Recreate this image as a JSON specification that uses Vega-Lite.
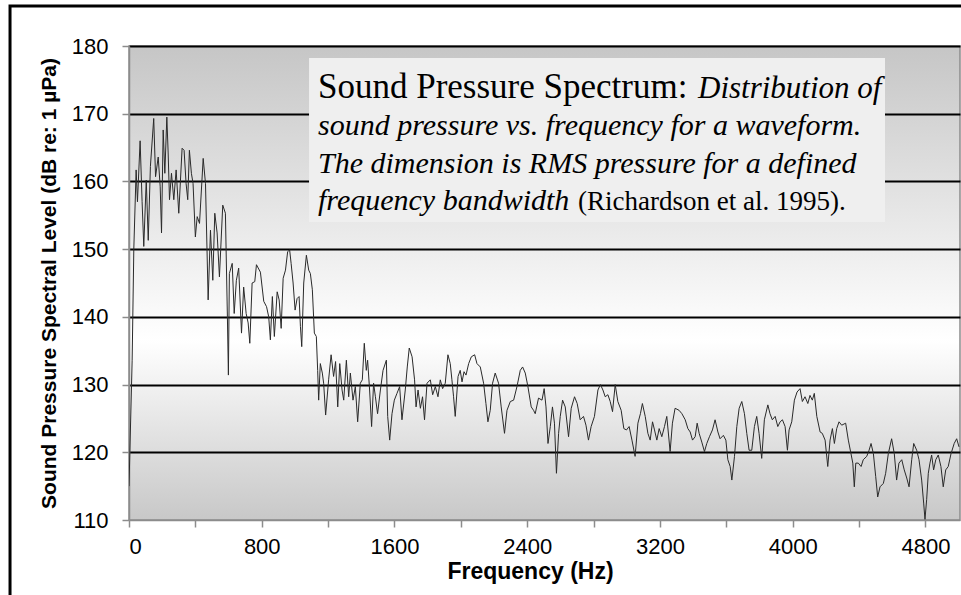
{
  "$schema": "https://vega.github.io/schema/vega-lite/v6.json",
  "width": 831,
  "height": 474,
  "autosize": {"type": "none"},
  "padding": {"left": 129, "top": 46, "right": 1, "bottom": 75},
  "background": "white",
  "config": {
    "view": {
      "fill": {"gradient": "linear", "x1": 0, "y1": 0, "x2": 0, "y2": 1,
        "stops": [{"offset": 0, "color": "#c6c6c6"}, {"offset": 0.62, "color": "#ffffff"}, {"offset": 1, "color": "#c8c8c8"}]},
      "stroke": "#8c8c8c",
      "strokeWidth": 1.5
    },
    "font": "Liberation Sans"
  },
  "datasets": {
    "spectrum": [
      {"frequency":0,"level":115},{"frequency":19,"level":133.6},{"frequency":29,"level":150},{"frequency":43,"level":161.7},{"frequency":51,"level":157},{"frequency":67,"level":166},{"frequency":79,"level":157},{"frequency":89,"level":150.4},{"frequency":104,"level":160.2},{"frequency":116,"level":151.3},{"frequency":129,"level":162.2},{"frequency":149,"level":169.3},{"frequency":160,"level":160.7},{"frequency":176,"level":163.6},{"frequency":188,"level":159.2},{"frequency":196,"level":152.4},{"frequency":206,"level":167.6},{"frequency":216,"level":161.2},{"frequency":228,"level":169.5},{"frequency":236,"level":164.2},{"frequency":244,"level":157.3},{"frequency":256,"level":161.2},{"frequency":270,"level":157.3},{"frequency":284,"level":161.7},{"frequency":300,"level":155.3},{"frequency":320,"level":164.9},{"frequency":332,"level":164.6},{"frequency":344,"level":159.7},{"frequency":354,"level":157.3},{"frequency":364,"level":164.6},{"frequency":376,"level":161.2},{"frequency":386,"level":159.7},{"frequency":400,"level":151.8},{"frequency":411,"level":154.8},{"frequency":425,"level":153.8},{"frequency":447,"level":163.4},{"frequency":461,"level":159.7},{"frequency":477,"level":142.5},{"frequency":491,"level":152.8},{"frequency":505,"level":145.4},{"frequency":517,"level":155.3},{"frequency":531,"level":152.4},{"frequency":545,"level":145.9},{"frequency":565,"level":156.5},{"frequency":581,"level":155.3},{"frequency":593,"level":140},{"frequency":599,"level":131.4},{"frequency":605,"level":146.4},{"frequency":622,"level":147.9},{"frequency":634,"level":140.5},{"frequency":647,"level":145.4},{"frequency":661,"level":147.2},{"frequency":678,"level":137.6},{"frequency":691,"level":144.4},{"frequency":706,"level":140.5},{"frequency":718,"level":139.1},{"frequency":728,"level":136.1},{"frequency":742,"level":145},{"frequency":758,"level":145.2},{"frequency":768,"level":147.7},{"frequency":792,"level":146.6},{"frequency":812,"level":142.3},{"frequency":829,"level":141.5},{"frequency":842,"level":140},{"frequency":852,"level":136.6},{"frequency":864,"level":143},{"frequency":876,"level":137.1},{"frequency":893,"level":143.7},{"frequency":905,"level":142.5},{"frequency":917,"level":138.3},{"frequency":929,"level":145.7},{"frequency":943,"level":146.9},{"frequency":956,"level":149.6},{"frequency":968,"level":149.9},{"frequency":977,"level":147.9},{"frequency":989,"level":145},{"frequency":1001,"level":141},{"frequency":1013,"level":142.7},{"frequency":1025,"level":143},{"frequency":1033,"level":138.6},{"frequency":1041,"level":135.6},{"frequency":1053,"level":145},{"frequency":1069,"level":149.1},{"frequency":1083,"level":146.9},{"frequency":1093,"level":146.4},{"frequency":1105,"level":144},{"frequency":1117,"level":137.6},{"frequency":1129,"level":137.1},{"frequency":1137,"level":132.1},{"frequency":1143,"level":127.7},{"frequency":1153,"level":133.1},{"frequency":1165,"level":131.7},{"frequency":1173,"level":130.2},{"frequency":1185,"level":125.5},{"frequency":1203,"level":130.7},{"frequency":1218,"level":134.4},{"frequency":1233,"level":131.2},{"frequency":1245,"level":133.4},{"frequency":1258,"level":126.7},{"frequency":1270,"level":133.1},{"frequency":1284,"level":129.2},{"frequency":1294,"level":127.7},{"frequency":1310,"level":133.6},{"frequency":1324,"level":128.2},{"frequency":1334,"level":131.7},{"frequency":1350,"level":127.7},{"frequency":1364,"level":129.7},{"frequency":1378,"level":124.5},{"frequency":1394,"level":130.2},{"frequency":1406,"level":130.7},{"frequency":1418,"level":136.1},{"frequency":1430,"level":132.1},{"frequency":1438,"level":133.6},{"frequency":1450,"level":129.2},{"frequency":1462,"level":123.8},{"frequency":1474,"level":130.2},{"frequency":1485,"level":128.2},{"frequency":1498,"level":125.7},{"frequency":1515,"level":129.2},{"frequency":1531,"level":132.1},{"frequency":1551,"level":133.6},{"frequency":1559,"level":125.3},{"frequency":1571,"level":121.8},{"frequency":1585,"level":125.7},{"frequency":1599,"level":127.7},{"frequency":1615,"level":128.7},{"frequency":1631,"level":129.7},{"frequency":1645,"level":124.8},{"frequency":1665,"level":129.2},{"frequency":1677,"level":132.6},{"frequency":1689,"level":135.4},{"frequency":1706,"level":134.1},{"frequency":1721,"level":130.7},{"frequency":1730,"level":126.7},{"frequency":1742,"level":129.2},{"frequency":1756,"level":126.5},{"frequency":1769,"level":128.2},{"frequency":1781,"level":124.8},{"frequency":1796,"level":130.2},{"frequency":1816,"level":130.7},{"frequency":1830,"level":128.5},{"frequency":1846,"level":129.7},{"frequency":1862,"level":128.2},{"frequency":1876,"level":130.7},{"frequency":1890,"level":129.4},{"frequency":1906,"level":130.2},{"frequency":1922,"level":134.4},{"frequency":1936,"level":133.1},{"frequency":1946,"level":130.7},{"frequency":1956,"level":128.2},{"frequency":1966,"level":125.3},{"frequency":1983,"level":131.2},{"frequency":1996,"level":132.1},{"frequency":2007,"level":130.4},{"frequency":2019,"level":131.9},{"frequency":2031,"level":131.4},{"frequency":2047,"level":133.1},{"frequency":2063,"level":134.1},{"frequency":2083,"level":134.4},{"frequency":2097,"level":133.1},{"frequency":2117,"level":132.6},{"frequency":2137,"level":130.2},{"frequency":2151,"level":127.2},{"frequency":2163,"level":124.5},{"frequency":2177,"level":126.2},{"frequency":2191,"level":130.2},{"frequency":2207,"level":131.7},{"frequency":2227,"level":130.2},{"frequency":2243,"level":126.7},{"frequency":2263,"level":122.8},{"frequency":2278,"level":126.2},{"frequency":2298,"level":127.5},{"frequency":2318,"level":127.7},{"frequency":2338,"level":129.7},{"frequency":2358,"level":132.1},{"frequency":2372,"level":132.6},{"frequency":2388,"level":131.7},{"frequency":2404,"level":129.7},{"frequency":2424,"level":126.7},{"frequency":2438,"level":126.2},{"frequency":2448,"level":125.7},{"frequency":2468,"level":128},{"frequency":2489,"level":127.7},{"frequency":2502,"level":129.4},{"frequency":2513,"level":126.7},{"frequency":2525,"level":121.3},{"frequency":2539,"level":123.8},{"frequency":2552,"level":126.7},{"frequency":2564,"level":124.3},{"frequency":2576,"level":116.9},{"frequency":2589,"level":122.8},{"frequency":2599,"level":125.3},{"frequency":2613,"level":127.7},{"frequency":2629,"level":126.7},{"frequency":2649,"level":122.3},{"frequency":2665,"level":126.5},{"frequency":2685,"level":128.2},{"frequency":2701,"level":127.2},{"frequency":2719,"level":124.8},{"frequency":2739,"level":125.3},{"frequency":2754,"level":124},{"frequency":2769,"level":121.8},{"frequency":2785,"level":123.8},{"frequency":2805,"level":125.3},{"frequency":2826,"level":129.2},{"frequency":2841,"level":130},{"frequency":2856,"level":129.2},{"frequency":2870,"level":128.2},{"frequency":2886,"level":128.5},{"frequency":2900,"level":127.5},{"frequency":2914,"level":126},{"frequency":2930,"level":130},{"frequency":2946,"level":127.5},{"frequency":2966,"level":126.2},{"frequency":2982,"level":123.5},{"frequency":2998,"level":123.3},{"frequency":3014,"level":123.8},{"frequency":3031,"level":121.8},{"frequency":3050,"level":119.4},{"frequency":3067,"level":124.3},{"frequency":3082,"level":125.7},{"frequency":3094,"level":127.2},{"frequency":3111,"level":125.3},{"frequency":3127,"level":122.8},{"frequency":3141,"level":121.8},{"frequency":3155,"level":124.5},{"frequency":3167,"level":123.3},{"frequency":3181,"level":121.8},{"frequency":3195,"level":123.5},{"frequency":3211,"level":122.3},{"frequency":3227,"level":123.8},{"frequency":3241,"level":125.3},{"frequency":3261,"level":120.1},{"frequency":3275,"level":124.3},{"frequency":3291,"level":126.5},{"frequency":3315,"level":126.2},{"frequency":3332,"level":125.7},{"frequency":3352,"level":124.8},{"frequency":3368,"level":123.5},{"frequency":3382,"level":123},{"frequency":3396,"level":121.8},{"frequency":3412,"level":122.3},{"frequency":3424,"level":124.3},{"frequency":3436,"level":122.8},{"frequency":3452,"level":121.5},{"frequency":3468,"level":120.1},{"frequency":3482,"level":121.3},{"frequency":3498,"level":122.3},{"frequency":3516,"level":123.3},{"frequency":3532,"level":124.8},{"frequency":3549,"level":123},{"frequency":3562,"level":122},{"frequency":3582,"level":122.5},{"frequency":3597,"level":121.8},{"frequency":3609,"level":118.9},{"frequency":3623,"level":117.9},{"frequency":3633,"level":115.9},{"frequency":3649,"level":119.4},{"frequency":3663,"level":123.8},{"frequency":3677,"level":126.5},{"frequency":3693,"level":127.5},{"frequency":3709,"level":125.7},{"frequency":3723,"level":122.8},{"frequency":3737,"level":120.3},{"frequency":3753,"level":120.3},{"frequency":3769,"level":123.8},{"frequency":3783,"level":125.3},{"frequency":3797,"level":122.8},{"frequency":3813,"level":119.1},{"frequency":3829,"level":124.8},{"frequency":3850,"level":127},{"frequency":3863,"level":125.7},{"frequency":3877,"level":124.8},{"frequency":3894,"level":125.3},{"frequency":3910,"level":123.8},{"frequency":3924,"level":124.5},{"frequency":3938,"level":124.8},{"frequency":3954,"level":123.8},{"frequency":3968,"level":120.3},{"frequency":3978,"level":123.3},{"frequency":3994,"level":124.5},{"frequency":4010,"level":127.7},{"frequency":4026,"level":128.9},{"frequency":4044,"level":129.4},{"frequency":4058,"level":127.5},{"frequency":4074,"level":128.2},{"frequency":4091,"level":127.2},{"frequency":4104,"level":128.4},{"frequency":4118,"level":127.7},{"frequency":4130,"level":128.7},{"frequency":4145,"level":125.3},{"frequency":4165,"level":123},{"frequency":4178,"level":122.8},{"frequency":4195,"level":121.8},{"frequency":4211,"level":117.9},{"frequency":4225,"level":121.8},{"frequency":4239,"level":123.5},{"frequency":4251,"level":121.3},{"frequency":4265,"level":123.5},{"frequency":4279,"level":124.5},{"frequency":4295,"level":124},{"frequency":4319,"level":124.3},{"frequency":4335,"level":121.8},{"frequency":4351,"level":119.8},{"frequency":4362,"level":118.4},{"frequency":4371,"level":114.9},{"frequency":4380,"level":118.4},{"frequency":4395,"level":118.4},{"frequency":4412,"level":117.9},{"frequency":4425,"level":118.9},{"frequency":4446,"level":119.4},{"frequency":4460,"level":120.3},{"frequency":4472,"level":121.3},{"frequency":4486,"level":119.8},{"frequency":4500,"level":116.4},{"frequency":4512,"level":113.4},{"frequency":4526,"level":114.9},{"frequency":4546,"level":115.4},{"frequency":4560,"level":116.9},{"frequency":4576,"level":119.8},{"frequency":4596,"level":122},{"frequency":4612,"level":119.8},{"frequency":4626,"level":115.9},{"frequency":4640,"level":118.4},{"frequency":4657,"level":118.9},{"frequency":4672,"level":117.4},{"frequency":4687,"level":116.2},{"frequency":4701,"level":114.9},{"frequency":4717,"level":118.9},{"frequency":4729,"level":121.3},{"frequency":4747,"level":120.3},{"frequency":4761,"level":118.9},{"frequency":4777,"level":115.9},{"frequency":4789,"level":112.5},{"frequency":4797,"level":110.1},{"frequency":4807,"level":113},{"frequency":4817,"level":116.9},{"frequency":4827,"level":118.4},{"frequency":4837,"level":119.6},{"frequency":4849,"level":117.4},{"frequency":4862,"level":118.9},{"frequency":4877,"level":119.6},{"frequency":4893,"level":117.9},{"frequency":4907,"level":114.9},{"frequency":4922,"level":117.4},{"frequency":4937,"level":117.9},{"frequency":4954,"level":119.8},{"frequency":4973,"level":121.3},{"frequency":4988,"level":122},{"frequency":5002,"level":120.8}
    ]
  },
  "layer": [
    {
      "data": {"name": "spectrum"},
      "mark": {"type": "line", "color": "#2a2a2a", "strokeWidth": 1, "clip": true},
      "encoding": {
        "x": {
          "field": "frequency", "type": "quantitative",
          "scale": {"domain": [0, 5008], "nice": false, "zero": false},
          "axis": {
            "values": [0, 400, 800, 1200, 1600, 2000, 2400, 2800, 3200, 3600, 4000, 4400, 4800],
            "labelExpr": "datum.value % 800 === 0 ? datum.label : ''",
            "format": "d",
            "title": "Frequency (Hz)",
            "titleX": 401,
            "grid": false,
            "domainColor": "#8c8c8c", "domainWidth": 1.5,
            "tickColor": "#8c8c8c", "tickWidth": 1.5, "tickSize": 7,
            "labelFont": "Liberation Sans", "labelFontSize": 22, "labelColor": "black", "labelPadding": 9,
            "labelOverlap": false,
            "titleFont": "Liberation Sans", "titleFontSize": 23, "titleFontWeight": "bold", "titleColor": "black", "titlePadding": 3
          }
        },
        "y": {
          "field": "level", "type": "quantitative",
          "scale": {"domain": [110, 180], "nice": false, "zero": false},
          "axis": {
            "values": [110, 120, 130, 140, 150, 160, 170, 180],
            "title": "Sound Pressure Spectral Level (dB re: 1 µPa)",
            "grid": true,
            "gridColor": {"condition": {"test": "datum.value === 110", "value": "transparent"}, "value": "black"},
            "gridWidth": 2,
            "gridOpacity": 1,
            "domainColor": "#8c8c8c", "domainWidth": 1.5,
            "tickColor": "#8c8c8c", "tickWidth": 1.5, "tickSize": 7,
            "labelFont": "Liberation Sans", "labelFontSize": 22, "labelColor": "black", "labelPadding": 14,
            "titleFont": "Liberation Sans", "titleFontSize": 21, "titleFontWeight": "bold", "titleColor": "black", "titlePadding": 12
          }
        }
      }
    },
    {
      "data": {"values": [{}]},
      "mark": {"type": "rect", "fill": "#efefef", "stroke": null},
      "encoding": {
        "x": {"datum": 1085, "type": "quantitative"},
        "x2": {"datum": 4556},
        "y": {"datum": 178.23, "type": "quantitative"},
        "y2": {"datum": 154.0}
      }
    },
    {
      "data": {"values": [{}]},
      "mark": {"type": "text", "text": "Sound Pressure Spectrum:", "font": "Liberation Serif", "fontSize": 35, "align": "left", "baseline": "alphabetic", "color": "black"},
      "encoding": {"x": {"datum": 1139, "type": "quantitative"}, "y": {"datum": 172.3, "type": "quantitative"}}
    },
    {
      "data": {"values": [{}]},
      "mark": {"type": "text", "text": "Distribution of", "font": "Liberation Serif", "fontStyle": "italic", "fontSize": 31, "align": "left", "baseline": "alphabetic", "color": "black"},
      "encoding": {"x": {"datum": 3429, "type": "quantitative"}, "y": {"datum": 172.3, "type": "quantitative"}}
    },
    {
      "data": {"values": [{}]},
      "mark": {"type": "text", "text": "sound pressure vs. frequency for a waveform.", "font": "Liberation Serif", "fontStyle": "italic", "fontSize": 30, "align": "left", "baseline": "alphabetic", "color": "black"},
      "encoding": {"x": {"datum": 1139, "type": "quantitative"}, "y": {"datum": 166.8, "type": "quantitative"}}
    },
    {
      "data": {"values": [{}]},
      "mark": {"type": "text", "text": "The dimension is RMS pressure for a defined", "font": "Liberation Serif", "fontStyle": "italic", "fontSize": 30, "align": "left", "baseline": "alphabetic", "color": "black"},
      "encoding": {"x": {"datum": 1139, "type": "quantitative"}, "y": {"datum": 161.3, "type": "quantitative"}}
    },
    {
      "data": {"values": [{}]},
      "mark": {"type": "text", "text": "frequency bandwidth", "font": "Liberation Serif", "fontStyle": "italic", "fontSize": 30, "align": "left", "baseline": "alphabetic", "color": "black"},
      "encoding": {"x": {"datum": 1139, "type": "quantitative"}, "y": {"datum": 155.8, "type": "quantitative"}}
    },
    {
      "data": {"values": [{}]},
      "mark": {"type": "text", "text": "(Richardson et al. 1995).", "font": "Liberation Serif", "fontSize": 27, "align": "left", "baseline": "alphabetic", "color": "black"},
      "encoding": {"x": {"datum": 2706, "type": "quantitative"}, "y": {"datum": 155.8, "type": "quantitative"}}
    },
    {
      "data": {"values": [{}]},
      "mark": {"type": "rect", "fill": null, "stroke": "black", "strokeWidth": 3, "clip": false},
      "encoding": {
        "x": {"datum": -717, "type": "quantitative"},
        "x2": {"datum": 6500},
        "y": {"datum": 185.9, "type": "quantitative"},
        "y2": {"datum": 95}
      }
    }
  ]
}
